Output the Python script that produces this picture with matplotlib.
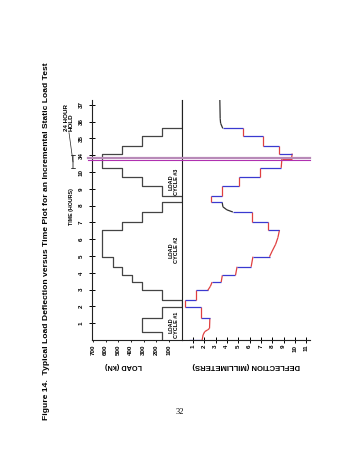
import numpy as np
import matplotlib.pyplot as plt

plt.rcParams['font.family'] = ['Liberation Sans']

# load schedule (hours, kN) - each value holds until the next time
load_hours = [0, 0.49, 1.29, 1.98, 2.38, 2.96, 3.45, 3.85, 4.36, 4.96, 6.55, 7.04,
              7.62, 8.19, 8.6, 9.15, 9.7, 10.25, 34.1, 34.55, 35.12, 35.6, 37.29]
load_kn = [155, 310, 155, 0, 155, 310, 390, 470, 545, 625, 470, 310,
           155, 0, 155, 310, 470, 625, 470, 310, 155, 0, 0]

# measured deflection (hours, mm)
defl_hours = [0, 0, 0.3, 0.5, 0.6, 0.69, 1.29, 1.29, 1.98, 1.98, 2.38, 2.38,
              2.96, 2.96, 3.2, 3.45, 3.45, 3.85, 3.85, 4.36, 4.36, 4.96, 4.96,
              5.3, 5.7, 6.1, 6.55, 6.55, 7.04, 7.04, 7.62, 7.62, 7.75, 7.93,
              8.19, 8.19, 8.6, 8.6, 9.15, 9.15, 9.7, 9.7, 10.25, 10.25, 10.78,
              33.78, 34.1, 34.1, 34.55, 34.55, 35.12, 35.12, 35.6, 35.6, 35.9,
              36.2, 37.29]
defl_mm = [0.7, 1.82, 1.9, 2.05, 2.3, 2.47, 2.5, 1.73, 1.73, 0.35, 0.35, 1.29,
           1.29, 2.32, 2.55, 2.7, 3.5, 3.6, 4.76, 4.9, 6.14, 6.3, 7.76,
           8.0, 8.3, 8.5, 8.64, 7.6, 7.6, 6.25, 6.25, 4.53, 4.0, 3.65,
           3.59, 2.62, 2.62, 3.59, 3.59, 5.06, 5.06, 6.88, 6.88, 8.79, 8.85,
           9.7, 9.76, 8.58, 8.58, 7.17, 7.17, 5.41, 5.41, 3.64, 3.45,
           3.41, 3.38]

time_ticks = [1, 2, 3, 4, 5, 6, 7, 8, 9, 10, 34, 35, 36, 37]
load_ticks = [700, 600, 500, 400, 300, 200, 100]
defl_ticks = [1, 2, 3, 4, 5, 6, 7, 8, 9, 10, 11]


def to_pos(h):
    # broken time axis: the 24 hour hold is cut out between 10 and 34 h
    h = np.asarray(h, float)
    return np.where(h > 20, h - 23, h)


W, H = 360, 466
fig = plt.figure(figsize=(3.6, 4.66), dpi=100)


def box(l, r, top, bot):
    return [l / W, 1 - bot / H, (r - l) / W, (bot - top) / H]


def fx(x):
    return x / W


def fy(y):
    return 1 - y / H


ax_load = fig.add_axes(box(92, 181.5, 100, 340))
ax_def = fig.add_axes(box(181.5, 310, 100, 340))
ax_def.patch.set_alpha(0)

ymax = 14.29

# load staircase, time going up the page
t = to_pos(load_hours)
L = np.array(load_kn)
xs = np.repeat(L, 2)[:-1]
ys = np.repeat(t, 2)[1:]
ax_load.plot(xs, ys, color='#444444', lw=0.9)

# deflection, steps in blue, creep in red, recovery in black
dt = to_pos(defl_hours)
dd = np.array(defl_mm)
for i in range(len(dd) - 1):
    if dt[i + 1] == dt[i]:
        c = '#3a3ad0'
    elif dd[i + 1] < dd[i]:
        c = '#333333'
    else:
        c = '#e04040'
    ax_def.plot(dd[i:i + 2], dt[i:i + 2], color=c, lw=0.9, solid_capstyle='butt')

ax_load.set_xlim(707, 0)
ax_load.set_ylim(0, ymax)
ax_def.set_xlim(0, 11.33)
ax_def.set_ylim(0, ymax)

ax_load.spines['top'].set_visible(False)
for s in ['top', 'right', 'left']:
    ax_def.spines[s].set_visible(False)
for ax in [ax_load, ax_def]:
    for s in ax.spines.values():
        s.set_linewidth(0.8)
        s.set_color('#222222')

ax_load.set_yticks(to_pos(time_ticks))
ax_load.set_yticklabels([str(v) for v in time_ticks], rotation=90, va='center',
                        fontsize=4.5, fontweight='bold')
ax_load.tick_params(axis='y', direction='inout', length=4, width=0.7, pad=4)
ax_load.set_xticks(load_ticks)
ax_load.set_xticklabels([str(v) for v in load_ticks], rotation=90,
                        fontsize=4.5, fontweight='bold')
ax_load.tick_params(axis='x', direction='out', length=1.5, width=0.6, pad=2)

ax_def.set_yticks([])
ax_def.set_xticks(defl_ticks)
ax_def.set_xticklabels([str(v) for v in defl_ticks], rotation=90,
                       fontsize=4.5, fontweight='bold')
ax_def.tick_params(axis='x', direction='inout', length=4, width=0.7, pad=1.5)

# break lines for the 24 hour hold
for p, c, lw in [(10.85, '#b88ab8', 1.6), (10.70, '#b030b0', 0.8)]:
    y = fy(340 - 16.8 * p)
    fig.add_artist(plt.Line2D([fx(88), fx(310)], [y, y], color=c, lw=lw,
                              transform=fig.transFigure))

# labels
fig.text(fx(124), fy(365), 'LOAD (kN)', rotation=180, ha='center', va='center',
         fontsize=5.2, fontweight='bold')
fig.text(fx(246), fy(365), 'DEFLECTION (MILLIMETERS)', rotation=180, ha='center',
         va='center', fontsize=5.5, fontweight='bold')
fig.text(fx(72), fy(207), 'TIME (HOURS)', rotation=90, ha='center', va='center',
         fontsize=3.8, fontweight='bold')
for yc, txt in [(325, 'LOAD\nCYCLE #1'), (250, 'LOAD\nCYCLE #2'), (182, 'LOAD\nCYCLE #3')]:
    fig.text(fx(174), fy(yc), txt, rotation=90, ha='center', va='center',
             fontsize=4, fontweight='bold', linespacing=1.0)

# 24 hour hold bracket
tr = ax_load.get_yaxis_transform()
bx = (73 - 92) / 89.5
ax_load.annotate('', xy=(bx, 10.22), xytext=(bx, 11.0), xycoords=tr, textcoords=tr,
                 arrowprops=dict(arrowstyle='|-|,widthA=0.15,widthB=0.15', lw=0.6,
                                 color='#222222', shrinkA=0, shrinkB=0),
                 annotation_clip=False)
ax_load.annotate('', xy=(bx, 10.6), xytext=((69 - 92) / 89.5, 12.35), xycoords=tr,
                 textcoords=tr, arrowprops=dict(arrowstyle='-', lw=0.5, color='#222222',
                                                shrinkA=0, shrinkB=0),
                 annotation_clip=False)
fig.text(fx(69), fy(131), '24 HOUR\nHOLD', rotation=90, ha='center', va='bottom',
         multialignment='left', fontsize=4.5, fontweight='bold', linespacing=1.0)

fig.text(fx(47), fy(62), 'Figure 14.  Typical Load Deflection versus Time Plot for an '
         'Incremental Static Load Test', rotation=90, ha='center', va='top',
         fontsize=6.1, fontweight='bold')
fig.text(fx(180), fy(412), '32', ha='center', va='center', fontsize=6,
         family='Liberation Serif')

fig.savefig('out.png', dpi=100)
